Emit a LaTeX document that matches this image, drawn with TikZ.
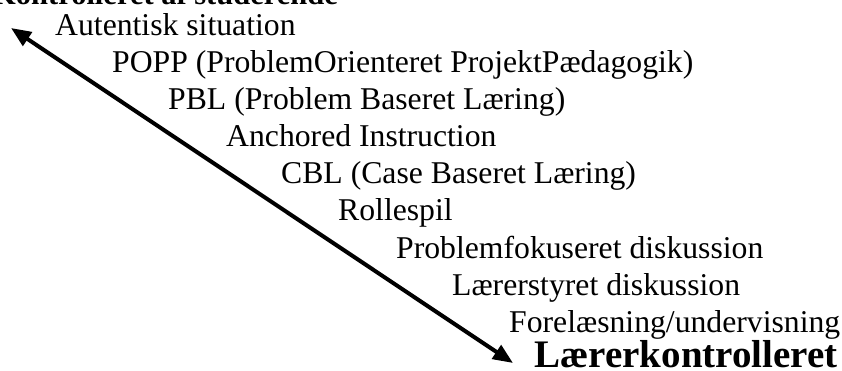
\documentclass[tikz,border=0pt]{standalone}
\usepackage{fontspec}
\setmainfont{Liberation Serif}
\usetikzlibrary{arrows.meta}
\begin{document}
\begin{tikzpicture}[x=1pt,y=-1pt,
  item/.style={anchor=base west,inner sep=0pt,font=\fontsize{31.7}{37}\selectfont},
  pole/.style={anchor=base east,inner sep=0pt,font=\bfseries\fontsize{39}{46}\selectfont},
  scale arrow/.style={line width=4pt,
    {Triangle[length=20pt,width=16pt]}-{Triangle[length=20pt,width=16pt]}}]
\useasboundingbox (0,0) rectangle (842,371);
% the two ends of the scale
\node[pole,font=\bfseries\fontsize{30.5}{36}\selectfont] (student) at (338,5) {Kontrolleret af studerende};
\node[pole] (teacher) at (838,367) {Lærerkontrolleret};
% teaching forms, from student-driven to teacher-driven
\node[item] (a1) at (55,36)  {Autentisk situation};
\node[item] (a2) at (112,73) {POPP (ProblemOrienteret ProjektPædagogik)};
\node[item] (a3) at (168,110) {PBL (Problem Baseret Læring)};
\node[item] (a4) at (226,147) {Anchored Instruction};
\node[item] (a5) at (281,184) {CBL (Case Baseret Læring)};
\node[item] (a6) at (338,221) {Rollespil};
\node[item] (a7) at (396,258) {Problemfokuseret diskussion};
\node[item] (a8) at (452,295) {Lærerstyret diskussion};
\node[item] (a9) at (509,332) {Forelæsning/undervisning};
% double-headed scale arrow
\coordinate (up) at (11,28);
\coordinate (down) at (513,363);
\draw[scale arrow] (up) -- (down);
\end{tikzpicture}
\end{document}
